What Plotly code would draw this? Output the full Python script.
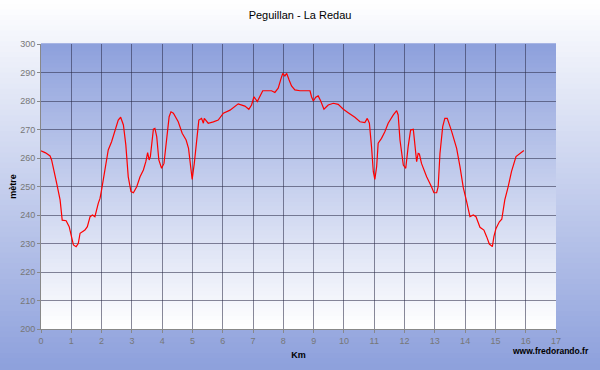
import plotly.graph_objects as go

km = [0.0, 0.15, 0.3, 0.35, 0.52, 0.63, 0.7, 0.83, 0.93, 1.01, 1.07, 1.16, 1.23, 1.29, 1.45, 1.53,
      1.62, 1.7, 1.78, 1.89, 1.95, 2.0, 2.11, 2.22, 2.33, 2.44, 2.55, 2.63, 2.72, 2.8, 2.88, 2.97,
      3.05, 3.16, 3.27, 3.38, 3.46, 3.52, 3.57, 3.61, 3.65, 3.71, 3.76, 3.82, 3.89, 3.98, 4.06, 4.15,
      4.23, 4.29, 4.37, 4.53, 4.66, 4.79, 4.87, 4.94, 4.99, 5.06, 5.14, 5.21, 5.3, 5.36, 5.39, 5.52,
      5.69, 5.85, 6.02, 6.24, 6.51, 6.73, 6.86, 6.95, 7.03, 7.14, 7.32, 7.5, 7.61, 7.72, 7.83, 7.91,
      7.98, 8.05, 8.11, 8.19, 8.27, 8.38, 8.55, 8.71, 8.88, 8.93, 8.99, 9.07, 9.15, 9.23, 9.34, 9.48,
      9.65, 9.81, 9.98, 10.14, 10.36, 10.53, 10.69, 10.77, 10.84, 10.91, 10.97, 11.02, 11.08, 11.13,
      11.24, 11.35, 11.46, 11.63, 11.74, 11.79, 11.85, 11.96, 12.04, 12.12, 12.2, 12.29, 12.34, 12.4,
      12.45, 12.49, 12.56, 12.73, 12.89, 12.97, 13.06, 13.11, 13.17, 13.26, 13.33, 13.41, 13.55,
      13.72, 13.83, 13.94, 14.05, 14.16, 14.27, 14.36, 14.49, 14.62, 14.71, 14.8, 14.9, 14.95, 15.02,
      15.13, 15.21, 15.31, 15.42, 15.53, 15.68, 15.81, 15.94]
altitude = [262.5, 261.8, 260.7, 259.3, 251, 245.3, 238.2, 238, 235.9, 232.4, 229.5, 228.9, 230,
            233.6, 234.7, 235.9, 239.4, 240, 239.4, 244.1, 245.9, 248.8, 255.2, 262.8, 265.7, 269.2,
            273.3, 274.3, 271.6, 264.6, 253.4, 248.2, 247.8, 249.9, 253.4, 255.8, 258.7, 261.9, 259.3,
            260.5, 265.2, 270.1, 270.4, 267.5, 259.3, 256.4, 258.1, 266.3, 274.5, 276.2, 275.7, 272.7,
            268.7, 266.3, 263.4, 257, 252.5, 258.1, 267.5, 273.3, 273.9, 272.2, 273.9, 272.2, 272.7,
            273.3, 275.7, 276.8, 279, 278.2, 277.1, 278.6, 281.5, 279.8, 283.6, 283.6, 283.6, 283,
            284.5, 287.4, 289.7, 288.8, 289.7, 287.4, 285.3, 283.9, 283.6, 283.6, 283.6, 281.5, 280,
            281.3, 281.8, 280.1, 277.1, 278.6, 279.2, 278.8, 277.1, 275.9, 274.3, 272.7, 272.4, 273.9,
            272.2, 264, 255.2, 252.5, 257, 265.2, 266.9, 269.2, 272.2, 275.1, 276.6, 275.1, 266.3,
            257.5, 256.4, 264, 269.8, 270.1, 264, 258.7, 261.6, 261.4, 258.1, 253.4, 249.9, 247.8,
            247.8, 249.9, 261.6, 271, 273.9, 273.9, 269.5, 263.4, 257, 249.6, 244.7, 239.4, 240, 239.4,
            235.7, 234.7, 232.4, 229.8, 228.9, 232.4, 235.3, 237.6, 238.5, 245.3, 249.9, 255.2, 260.5,
            261.4, 262.6]

x_ticks = list(range(0, 18))
y_ticks = list(range(200, 301, 10))

title = "Peguillan - La Redau"
x_title = "Km"
y_title = "mètre"
credit = "www.fredorando.fr"

W, H = 600, 370
ML, MR, MT, MB = 41, 44, 44, 41
PW, PH = W - ML - MR, H - MT - MB

BLUE = (141, 160, 220)
WHITE = (255, 255, 255)


def mix(c1, c2, t):
    return "rgb(%d,%d,%d)" % tuple(round(a + (b - a) * t) for a, b in zip(c1, c2))


# paper coordinates covering the whole page
px0, px1 = -ML / PW, 1 + MR / PW
py0, py1 = -MB / PH, 1 + MT / PH

shapes = []
N = 70
for i in range(N):
    top = py1 - (py1 - py0) * i / N
    bot = py1 - (py1 - py0) * (i + 1) / N
    shapes.append(dict(type="rect", xref="paper", yref="paper", x0=px0, x1=px1,
                       y0=bot, y1=top + 0.004,
                       fillcolor=mix(WHITE, BLUE, (i + 0.5) / N),
                       line=dict(width=0), layer="below"))
for i in range(N):
    top = 1 - i / N
    bot = 1 - (i + 1) / N
    shapes.append(dict(type="rect", xref="x domain", yref="y domain", x0=0, x1=1,
                       y0=bot, y1=top + 0.003,
                       fillcolor=mix(BLUE, WHITE, (i + 0.5) / N),
                       line=dict(width=0), layer="below"))

fig = go.Figure()
fig.add_trace(go.Scatter(x=km, y=altitude, mode="lines",
                         line=dict(color="#ff0000", width=1.2), hoverinfo="skip"))

font = "Liberation Sans, Arial, sans-serif"
axis_common = dict(showgrid=True, gridcolor="rgba(40,40,70,0.55)", gridwidth=1,
                   showline=True, linecolor="#888888", linewidth=1, zeroline=False,
                   ticks="outside", ticklen=3, tickcolor="#888888",
                   tickfont=dict(family=font, size=9, color="#777777"),
                   automargin=False, fixedrange=True)
fig.update_layout(
    width=W, height=H,
    margin=dict(l=ML, r=MR, t=MT, b=MB, autoexpand=False),
    paper_bgcolor="rgba(0,0,0,0)",
    plot_bgcolor="rgba(0,0,0,0)",
    showlegend=False,
    shapes=shapes,
    title=dict(text=title, x=0.5, xanchor="center", y=1 - 15 / H, yanchor="middle",
               font=dict(family=font, size=11, color="#000000")),
    xaxis=dict(range=[0, 17], tickvals=x_ticks, ticktext=[str(v) for v in x_ticks],
               title=dict(text="<b>" + x_title + "</b>", standoff=6,
                          font=dict(family=font, size=9, color="#000000")),
               **axis_common),
    yaxis=dict(range=[200, 300], tickvals=y_ticks,
               title=dict(text="<b>" + y_title + "</b>", standoff=2,
                          font=dict(family=font, size=9, color="#000000")),
               **axis_common),
    annotations=[dict(text="<b>" + credit + "</b>", xref="paper", yref="paper",
                      x=1 + 35 / PW, y=-22 / PH, xanchor="right", yanchor="middle",
                      showarrow=False, font=dict(family=font, size=8.5, color="#000000"))],
)

fig.write_html("out.html", config={"displayModeBar": False},
               post_script="document.body.style.margin='0';document.body.style.overflow='hidden';")
